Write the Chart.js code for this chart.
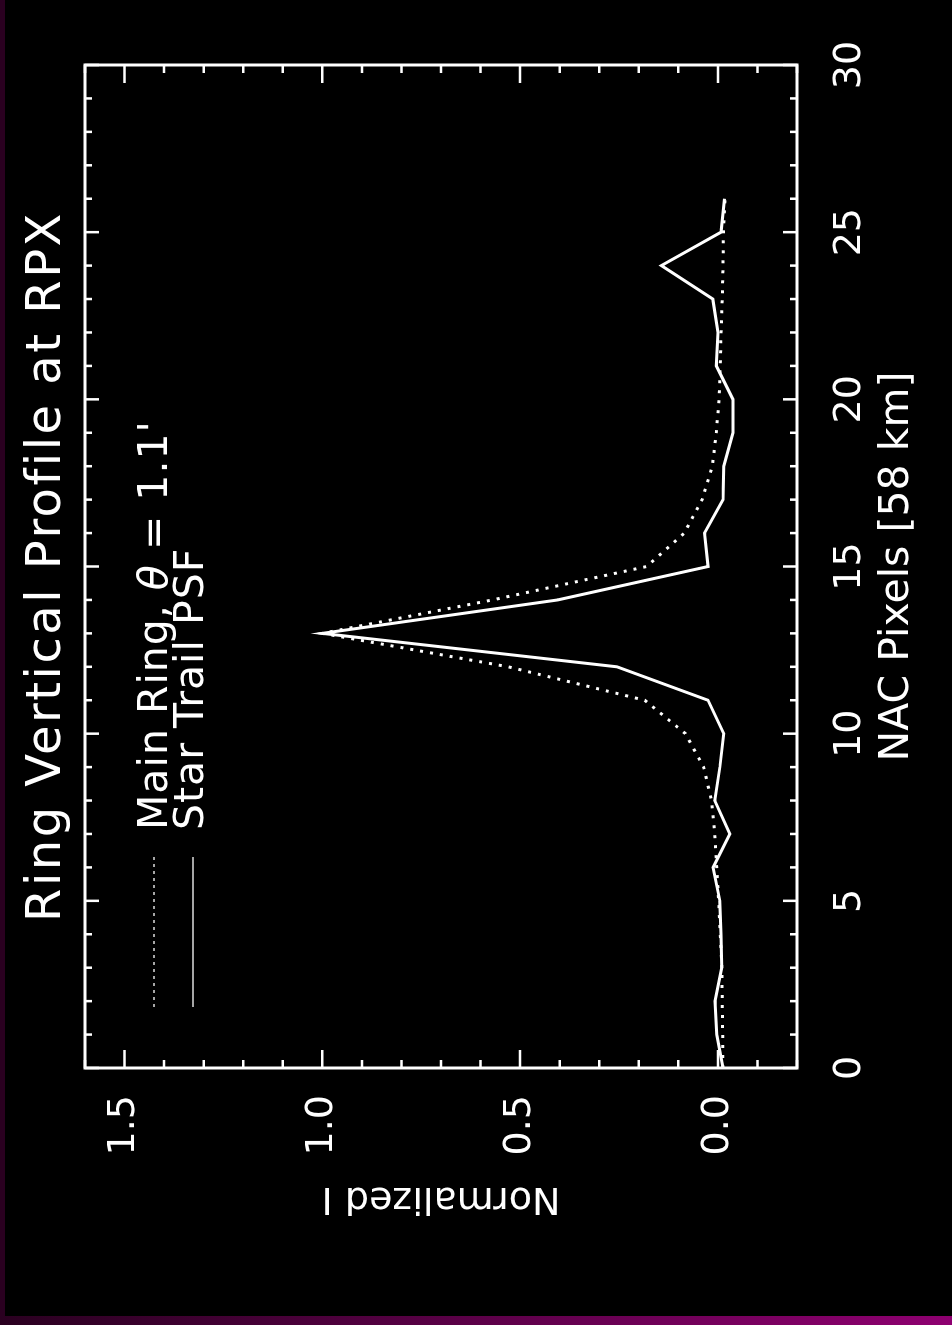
<!DOCTYPE html>
<html>
<head>
<meta charset="utf-8">
<title>Ring Vertical Profile at RPX</title>
<script src="https://cdn.jsdelivr.net/npm/chart.js@4.4.1/dist/chart.umd.min.js"></script>
<style>
  html, body { margin: 0; padding: 0; }
  body { width: 952px; height: 1325px; overflow: hidden; position: relative; background: #2a0020; }
  #page { position: absolute; left: 5px; top: 0; width: 947px; height: 1316px; background: #000; }
  #edge { position: absolute; left: 0; bottom: 0; width: 952px; height: 9px;
          background: linear-gradient(to right, #2a0020, #8e0070); }
  /* the plot is drawn landscape and turned a quarter turn to the left */
  #plot { position: absolute; left: 0; top: 0; width: 1325px; height: 952px;
          transform-origin: 0 0; transform: translate(0, 1325px) rotate(-90deg); }
</style>
</head>
<body>
<div id="page"></div>
<div id="edge"></div>
<div id="plot"><canvas id="chart" width="1325" height="952"></canvas></div>
<script>
/* Ring vertical profile — IDL style plot, rebuilt with Chart.js */

const FONT = "DejaVu Sans";

// NAC pixel positions and the two profiles (normalized intensity)
const X_PIX = [0, 1, 2, 3, 4, 5, 6, 7, 8, 9, 10, 11, 12, 13, 14, 15, 16, 17, 18, 19, 20, 21, 22, 23, 24, 25, 26];
const MAIN_RING = [-0.012, -0.012, -0.011, -0.010, -0.006, -0.002, 0.003, 0.008, 0.016, 0.036, 0.082, 0.185, 0.53,
                   1.0, 0.57, 0.18, 0.085, 0.04, 0.014, 0.004, -0.003, -0.006, -0.008, -0.011, -0.013, -0.014, -0.018];
const STAR_PSF = [-0.013, 0.003, 0.007, -0.010, -0.008, -0.005, 0.012, -0.030, 0.008, -0.005, -0.015, 0.025, 0.255,
                  1.0, 0.405, 0.025, 0.034, -0.013, -0.015, -0.038, -0.038, 0.004, 0.0, 0.013, 0.143, -0.008, -0.017];

const X_RANGE = [0, 30];
const Y_RANGE = [-0.2, 1.6];
const X_TICKS = [0, 5, 10, 15, 20, 25, 30];
const Y_TICKS = [0.0, 0.5, 1.0, 1.5];

const LEGEND = [
  { pre: "Main Ring, ", greek: "θ", post: " = 1.1'", dash: [3, 4] },
  { pre: "Star Trail PSF", greek: "", post: "", dash: [] },
];

/* ---------- frame, inward ticks, title, legend ---------- */
const idlFrame = {
  id: "idlFrame",
  afterDraw(chart) {
    const { ctx, chartArea: a, scales: { x, y } } = chart;
    ctx.save();
    ctx.strokeStyle = "#fff";
    ctx.lineWidth = 3;
    ctx.strokeRect(a.left, a.top, a.right - a.left, a.bottom - a.top);

    ctx.lineWidth = 2.5;
    ctx.beginPath();
    // x: one tick per pixel, longer at the labelled ones
    for (let i = X_RANGE[0]; i <= X_RANGE[1]; i++) {
      const px = x.getPixelForValue(i);
      const len = i % 5 === 0 ? 14 : 7;
      ctx.moveTo(px, a.bottom); ctx.lineTo(px, a.bottom - len);
      ctx.moveTo(px, a.top); ctx.lineTo(px, a.top + len);
    }
    // y: minor every 0.1
    for (let k = -2; k <= 16; k++) {
      const py = y.getPixelForValue(k / 10);
      const len = k % 5 === 0 ? 18 : 8;
      ctx.moveTo(a.left, py); ctx.lineTo(a.left + len, py);
      ctx.moveTo(a.right, py); ctx.lineTo(a.right - len, py);
    }
    ctx.stroke();

    // title (the original face is wider, so open the spacing a bit)
    ctx.fillStyle = "#fff";
    ctx.font = `48px "${FONT}"`;
    ctx.letterSpacing = "2.5px";
    ctx.textAlign = "center";
    ctx.textBaseline = "alphabetic";
    ctx.fillText("Ring Vertical Profile at RPX", (a.left + a.right) / 2, a.top - 25);

    // legend, inside the frame
    ctx.letterSpacing = "1px";
    ctx.textAlign = "left";
    LEGEND.forEach((it, i) => {
      const ly = a.top + 69 + i * 39;
      ctx.strokeStyle = "#ddd";
      ctx.lineWidth = 1.5;
      ctx.setLineDash(it.dash);
      ctx.beginPath();
      ctx.moveTo(a.left + 61, ly); ctx.lineTo(a.left + 211, ly);
      ctx.stroke();
      ctx.setLineDash([]);

      const base = a.top + 82 + i * 36;
      let tx = a.left + 238;
      ctx.font = `41px "${FONT}"`;
      ctx.fillText(it.pre, tx, base);
      tx += ctx.measureText(it.pre).width;
      if (it.greek) {
        ctx.font = `italic 41px "${FONT}"`;
        ctx.fillText(it.greek, tx, base);
        tx += ctx.measureText(it.greek).width;
        ctx.font = `41px "${FONT}"`;
        ctx.fillText(it.post, tx, base);
      }
    });
    ctx.restore();
  },
};

new Chart(document.getElementById("chart"), {
  type: "line",
  data: {
    datasets: [
      {
        label: "Main Ring",
        data: X_PIX.map((v, i) => ({ x: v, y: MAIN_RING[i] })),
        borderColor: "#fff", borderWidth: 3, borderDash: [3, 7], borderCapStyle: "butt",
        pointRadius: 0, tension: 0, fill: false,
      },
      {
        label: "Star Trail PSF",
        data: X_PIX.map((v, i) => ({ x: v, y: STAR_PSF[i] })),
        borderColor: "#fff", borderWidth: 3,
        pointRadius: 0, tension: 0, fill: false,
      },
    ],
  },
  options: {
    responsive: false,
    animation: false,
    layout: { padding: { top: 85, right: 65, bottom: 0, left: 0 } },
    plugins: { legend: { display: false }, title: { display: false }, tooltip: { enabled: false } },
    scales: {
      x: {
        type: "linear", position: "bottom", min: X_RANGE[0], max: X_RANGE[1],
        afterBuildTicks: (s) => { s.ticks = X_TICKS.map((v) => ({ value: v })); },
        afterFit: (s) => { s.height = 155; },
        grid: { display: false, drawTicks: false },
        border: { display: false },
        ticks: { color: "#fff", font: { family: FONT, size: 38 }, padding: 30, maxRotation: 0, autoSkip: false },
        title: { display: true, text: "NAC Pixels [58 km]", color: "#fff",
                 font: { family: FONT, size: 41 }, padding: { top: 0, bottom: 30 } },
      },
      y: {
        type: "linear", position: "left", min: Y_RANGE[0], max: Y_RANGE[1],
        afterBuildTicks: (s) => { s.ticks = Y_TICKS.map((v) => ({ value: v })); },
        afterFit: (s) => { s.width = 257; },
        grid: { display: false, drawTicks: false },
        border: { display: false },
        ticks: { color: "#fff", font: { family: FONT, size: 38 }, padding: 27,
                 callback: (v) => Number(v).toFixed(1) },
        title: { display: true, text: "Normalized I", color: "#fff",
                 font: { family: FONT, size: 38 }, padding: { top: 104, bottom: 0 } },
      },
    },
  },
  plugins: [idlFrame],
});
</script>
</body>
</html>
